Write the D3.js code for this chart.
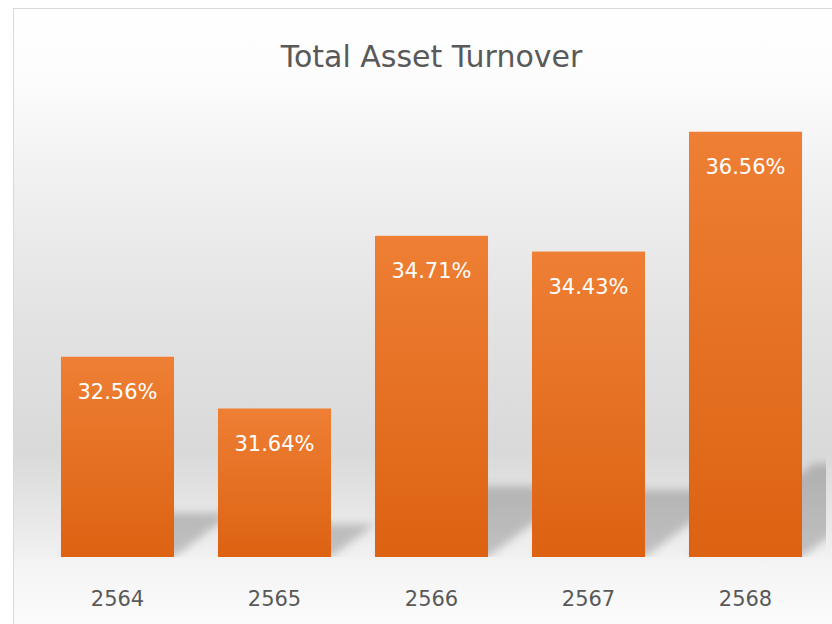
<!DOCTYPE html>
<html>
<head>
<meta charset="utf-8">
<script src="https://cdn.jsdelivr.net/npm/d3@7"></script>
<style>
  html, body { margin: 0; padding: 0; background: #fff; }
  svg { display: block; }
</style>
</head>
<body>
<script>
const years = ["2564", "2565", "2566", "2567", "2568"];
const values = [32.56, 31.64, 34.71, 34.43, 36.56];
const title = "Total Asset Turnover";

const width = 832, height = 624;
const font = "'DejaVu Sans', Verdana, sans-serif";

const svg = d3.select("body").append("svg")
  .attr("width", width)
  .attr("height", height);

const defs = svg.append("defs");

const bg = defs.append("linearGradient")
  .attr("id", "bg")
  .attr("gradientUnits", "userSpaceOnUse")
  .attr("x1", 0).attr("x2", 0).attr("y1", 8).attr("y2", 624);
[[0, "#ffffff"], [0.12, "#fcfcfc"], [0.3, "#efefef"], [0.5, "#e3e3e3"], [0.72, "#d9d9d9"], [0.88, "#efefef"], [0.9, "#f4f4f4"], [1, "#fbfbfb"]]
  .forEach(([o, c]) => bg.append("stop").attr("offset", o).attr("stop-color", c));

const barGrad = defs.append("linearGradient")
  .attr("id", "bar")
  .attr("x1", 0).attr("x2", 0).attr("y1", 0).attr("y2", 1);
barGrad.append("stop").attr("offset", 0).attr("stop-color", "#ee7f34");
barGrad.append("stop").attr("offset", 1).attr("stop-color", "#dd6212");

defs.append("filter")
  .attr("id", "blur")
  .attr("x", "-20%").attr("y", "-20%").attr("width", "140%").attr("height", "140%")
  .append("feGaussianBlur").attr("stdDeviation", 4);

defs.append("clipPath").attr("id", "plotclip")
  .append("rect").attr("x", 14).attr("y", 8).attr("width", 812).attr("height", 549);

// chart area
svg.append("rect")
  .attr("x", 13.5).attr("y", 8.5)
  .attr("width", width).attr("height", height)
  .attr("fill", "url(#bg)")
  .attr("stroke", "#d9d9d9")
  .attr("stroke-width", 1);

const x = d3.scaleBand()
  .domain(years)
  .range([39, 824])
  .paddingInner(0.28)
  .paddingOuter(0.14);

const y = d3.scaleLinear()
  .domain([29, 37])
  .range([557, 107]);

const data = years.map((year, i) => ({ year, value: values[i] }));

// perspective shadows skewed to the upper right
svg.append("g")
  .attr("clip-path", "url(#plotclip)")
  .selectAll("path")
  .data(data)
  .join("path")
  .attr("fill", "#000")
  .attr("fill-opacity", 0.2)
  .attr("filter", "url(#blur)")
  .attr("d", d => {
    const x0 = x(d.year), x1 = x0 + x.bandwidth();
    const b = y(29);
    const H = (b - y(d.value)) * 0.22;
    const dx = H / 0.75;
    return `M${x0},${b}L${x1},${b}L${x1 + dx},${b - H}L${x0 + dx},${b - H}Z`;
  });

svg.append("g")
  .selectAll("rect")
  .data(data)
  .join("rect")
  .attr("x", d => x(d.year))
  .attr("y", d => y(d.value))
  .attr("width", x.bandwidth())
  .attr("height", d => y(29) - y(d.value))
  .attr("fill", "url(#bar)");

svg.append("g")
  .selectAll("text")
  .data(data)
  .join("text")
  .attr("x", d => x(d.year) + x.bandwidth() / 2)
  .attr("y", d => y(d.value) + 42)
  .attr("text-anchor", "middle")
  .attr("font-family", font)
  .attr("font-size", 21)
  .attr("fill", "#ffffff")
  .text(d => d.value.toFixed(2) + "%");

// category axis
const xAxis = svg.append("g")
  .attr("transform", `translate(0,${y(29)})`)
  .call(d3.axisBottom(x).tickSize(0).tickPadding(34));
xAxis.select(".domain").remove();
xAxis.selectAll("text")
  .attr("font-family", font)
  .attr("font-size", 21)
  .attr("fill", "#595959");

svg.append("text")
  .attr("x", (x.range()[0] + x.range()[1]) / 2)
  .attr("y", 67)
  .attr("text-anchor", "middle")
  .attr("font-family", font)
  .attr("font-size", 30)
  .attr("fill", "#595959")
  .text(title);
</script>
</body>
</html>
